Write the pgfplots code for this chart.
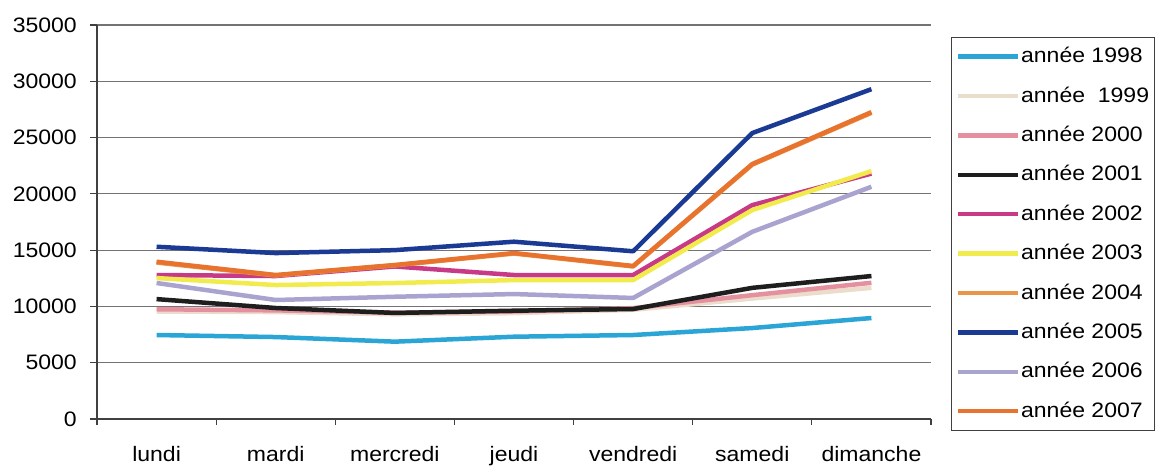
\documentclass[border=0pt]{standalone}
\usepackage{pgfplots}
\pgfplotsset{compat=1.18}
\usepackage{fontspec}
\setmainfont{Liberation Sans}[FakeStretch=1.1]
\definecolor{c1998}{HTML}{2AA5D5}
\definecolor{c1999}{HTML}{EBDCCB}
\definecolor{c2000}{HTML}{E5909F}
\definecolor{c2001}{HTML}{1E1E1E}
\definecolor{c2002}{HTML}{C93A86}
\definecolor{c2003}{HTML}{F2EB4E}
\definecolor{c2004}{HTML}{E8964A}
\definecolor{c2005}{HTML}{1A3A94}
\definecolor{c2006}{HTML}{A9A3CF}
\definecolor{c2007}{HTML}{E7732E}
\begin{document}
\begin{tikzpicture}
\path[use as bounding box] (-97bp,-48bp) rectangle (1062bp,419bp);
\begin{axis}[
  at={(0,0)}, anchor=south west,
  scale only axis, width=834bp, height=394bp,
  xmin=0.5, xmax=7.5, ymin=0, ymax=35000,
  axis lines*=left,
  axis line style={black!75, line width=1.2bp},
  xtick={1,...,7},
  xticklabels={lundi,mardi,mercredi,jeudi,vendredi,samedi,dimanche},
  minor xtick={0.5,1.5,...,7.5},
  major x tick style={draw=none},
  minor x tick style={black!75, line width=1.2bp},
  minor tick length=6bp,
  ytick={0,5000,...,35000},
  major y tick style={black!75, line width=1.2bp},
  major tick length=7bp,
  tick align=outside,
  ymajorgrids,
  grid style={black!55, line width=1.1bp},
  scaled y ticks=false,
  /pgf/number format/1000 sep={},
  /pgf/number format/assume math mode=true,
  tick label style={font=\fontsize{21}{25}\selectfont, inner sep=0pt},
  xticklabel style={anchor=north, yshift=-20bp},
  yticklabel style={anchor=east, xshift=-13bp},
  legend style={
    at={(1.024,0.9695)}, anchor=north west,
    draw=black!75, line width=1.2bp,
    font=\fontsize{21}{25}\selectfont,
    inner xsep=4bp, inner ysep=8bp,
    row sep=17.4bp,
    nodes={inner sep=1bp, text height=16bp, text depth=4bp},
  },
  legend cell align=left,
  legend image code/.code={\draw[#1, line width=4.5bp] (0bp,0bp) -- (60bp,0bp);},
  every axis plot/.append style={line width=4.5bp, line join=round},
]
\addplot[c1998] coordinates {(1,7460) (2,7280) (3,6870) (4,7310) (5,7460) (6,8080) (7,8970)};
\addlegendentry{année 1998}
\addplot[c1999] coordinates {(1,9550) (2,9500) (3,9300) (4,9400) (5,9700) (6,10700) (7,11650)};
\addlegendentry{année\ \ 1999}
\addplot[c2000] coordinates {(1,9750) (2,9650) (3,9450) (4,9550) (5,9850) (6,11000) (7,12100)};
\addlegendentry{année 2000}
\addplot[c2001] coordinates {(1,10650) (2,9860) (3,9420) (4,9620) (5,9770) (6,11650) (7,12700)};
\addlegendentry{année 2001}
\addplot[c2002] coordinates {(1,12790) (2,12700) (3,13550) (4,12790) (5,12790) (6,19000) (7,21800)};
\addlegendentry{année 2002}
\addplot[c2003] coordinates {(1,12520) (2,11900) (3,12080) (4,12340) (5,12340) (6,18560) (7,22020)};
\addlegendentry{année 2003}
\addplot[c2004] coordinates {(1,13900) (2,12750) (3,13650) (4,14700) (5,13550) (6,22600) (7,27200)};
\addlegendentry{année 2004}
\addplot[c2005] coordinates {(1,15300) (2,14740) (3,15000) (4,15750) (5,14900) (6,25400) (7,29300)};
\addlegendentry{année 2005}
\addplot[c2006] coordinates {(1,12080) (2,10570) (3,10860) (4,11100) (5,10750) (6,16630) (7,20630)};
\addlegendentry{année 2006}
\addplot[c2007] coordinates {(1,13970) (2,12790) (3,13680) (4,14740) (5,13590) (6,22650) (7,27260)};
\addlegendentry{année 2007}
\end{axis}
\end{tikzpicture}
\end{document}
